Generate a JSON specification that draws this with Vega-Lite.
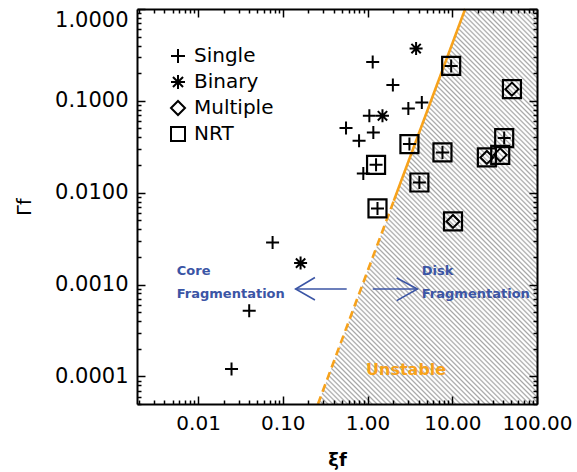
{
  "$schema": "https://vega.github.io/schema/vega-lite/v6.json",
  "width": 400,
  "height": 395,
  "autosize": "none",
  "padding": {"left": 137, "top": 9, "right": 40, "bottom": 68},
  "background": "white",
  "config": {
    "font": "DejaVu Sans",
    "view": {"stroke": null}
  },
  "datasets": {
    "objs": [
      {"xi": 1.15, "gamma": 0.265, "type": "Single", "nrt": false},
      {"xi": 1.99, "gamma": 0.149, "type": "Single", "nrt": false},
      {"xi": 3.03, "gamma": 0.0825, "type": "Single", "nrt": false},
      {"xi": 4.37, "gamma": 0.096, "type": "Single", "nrt": false},
      {"xi": 1.05, "gamma": 0.0687, "type": "Single", "nrt": false},
      {"xi": 0.557, "gamma": 0.0505, "type": "Single", "nrt": false},
      {"xi": 1.17, "gamma": 0.0452, "type": "Single", "nrt": false},
      {"xi": 0.794, "gamma": 0.0367, "type": "Single", "nrt": false},
      {"xi": 0.891, "gamma": 0.0162, "type": "Single", "nrt": false},
      {"xi": 0.0757, "gamma": 0.00287, "type": "Single", "nrt": false},
      {"xi": 0.0401, "gamma": 0.000519, "type": "Single", "nrt": false},
      {"xi": 0.0248, "gamma": 0.00012, "type": "Single", "nrt": false},
      {"xi": 3.74, "gamma": 0.371, "type": "Binary", "nrt": false},
      {"xi": 1.5, "gamma": 0.0687, "type": "Binary", "nrt": false},
      {"xi": 0.162, "gamma": 0.00171, "type": "Binary", "nrt": false},
      {"xi": 9.7, "gamma": 0.24, "type": "Single", "nrt": true},
      {"xi": 3.12, "gamma": 0.0338, "type": "Single", "nrt": true},
      {"xi": 7.66, "gamma": 0.0274, "type": "Single", "nrt": true},
      {"xi": 41.0, "gamma": 0.0393, "type": "Single", "nrt": true},
      {"xi": 1.26, "gamma": 0.0201, "type": "Single", "nrt": true},
      {"xi": 4.09, "gamma": 0.0129, "type": "Single", "nrt": true},
      {"xi": 1.31, "gamma": 0.00673, "type": "Single", "nrt": true},
      {"xi": 50.6, "gamma": 0.134, "type": "Multiple", "nrt": true},
      {"xi": 25.6, "gamma": 0.0242, "type": "Multiple", "nrt": true},
      {"xi": 36.8, "gamma": 0.0258, "type": "Multiple", "nrt": true},
      {"xi": 10.2, "gamma": 0.00486, "type": "Multiple", "nrt": true}
    ],
    "region": [
      {"gamma": 0.00005, "lo": 0.26, "hi": 100},
      {"gamma": 1, "lo": 14.2, "hi": 100}
    ],
    "boundary": [
      {"seg": "solid", "xi": 14.2, "gamma": 1},
      {"seg": "solid", "xi": 2.04, "gamma": 0.00816},
      {"seg": "dashed", "xi": 2.04, "gamma": 0.00816},
      {"seg": "dashed", "xi": 0.26, "gamma": 0.00005}
    ],
    "arrows": [
      {"id": "ls", "ord": 1, "xi": 0.5675, "gamma": 0.000893},
      {"id": "ls", "ord": 2, "xi": 0.1416, "gamma": 0.000893},
      {"id": "lh", "ord": 1, "xi": 0.2393, "gamma": 0.001194},
      {"id": "lh", "ord": 2, "xi": 0.1416, "gamma": 0.000893},
      {"id": "lh", "ord": 3, "xi": 0.2393, "gamma": 0.000678},
      {"id": "rs", "ord": 1, "xi": 1.151, "gamma": 0.000893},
      {"id": "rs", "ord": 2, "xi": 3.88, "gamma": 0.000893},
      {"id": "rh", "ord": 1, "xi": 2.21, "gamma": 0.001177},
      {"id": "rh", "ord": 2, "xi": 3.88, "gamma": 0.000893},
      {"id": "rh", "ord": 3, "xi": 2.21, "gamma": 0.000667}
    ],
    "notes": [
      {"label": "Core", "xi": 0.0056, "gamma": 0.00139},
      {"label": "Fragmentation", "xi": 0.0056, "gamma": 0.000788},
      {"label": "Disk", "xi": 4.37, "gamma": 0.00139},
      {"label": "Fragmentation", "xi": 4.37, "gamma": 0.000788}
    ],
    "zone": [
      {"label": "Unstable", "xi": 2.85, "gamma": 0.000117}
    ]
  },
  "layer": [
    {
      "data": {"name": "region"},
      "mark": {
        "type": "area",
        "orient": "horizontal",
        "stroke": null,
        "color": {
          "gradient": "linear",
          "x1": 0, "y1": 1, "x2": 0.659, "y2": -0.189,
          "stops": [
            {"offset": 0, "color": "#a6a6a6"}, {"offset": 0.0028, "color": "#fff"}, {"offset": 0.0052, "color": "#fff"},
            {"offset": 0.008, "color": "#a6a6a6"}, {"offset": 0.0108, "color": "#fff"}, {"offset": 0.0132, "color": "#fff"},
            {"offset": 0.016, "color": "#a6a6a6"}, {"offset": 0.0188, "color": "#fff"}, {"offset": 0.0212, "color": "#fff"},
            {"offset": 0.024, "color": "#a6a6a6"}, {"offset": 0.0268, "color": "#fff"}, {"offset": 0.0292, "color": "#fff"},
            {"offset": 0.032, "color": "#a6a6a6"}, {"offset": 0.0348, "color": "#fff"}, {"offset": 0.0372, "color": "#fff"},
            {"offset": 0.04, "color": "#a6a6a6"}, {"offset": 0.0428, "color": "#fff"}, {"offset": 0.0452, "color": "#fff"},
            {"offset": 0.048, "color": "#a6a6a6"}, {"offset": 0.0508, "color": "#fff"}, {"offset": 0.0532, "color": "#fff"},
            {"offset": 0.056, "color": "#a6a6a6"}, {"offset": 0.0588, "color": "#fff"}, {"offset": 0.0612, "color": "#fff"},
            {"offset": 0.064, "color": "#a6a6a6"}, {"offset": 0.0668, "color": "#fff"}, {"offset": 0.0692, "color": "#fff"},
            {"offset": 0.072, "color": "#a6a6a6"}, {"offset": 0.0748, "color": "#fff"}, {"offset": 0.0772, "color": "#fff"},
            {"offset": 0.08, "color": "#a6a6a6"}, {"offset": 0.0828, "color": "#fff"}, {"offset": 0.0852, "color": "#fff"},
            {"offset": 0.088, "color": "#a6a6a6"}, {"offset": 0.0908, "color": "#fff"}, {"offset": 0.0932, "color": "#fff"},
            {"offset": 0.096, "color": "#a6a6a6"}, {"offset": 0.0988, "color": "#fff"}, {"offset": 0.1012, "color": "#fff"},
            {"offset": 0.104, "color": "#a6a6a6"}, {"offset": 0.1068, "color": "#fff"}, {"offset": 0.1092, "color": "#fff"},
            {"offset": 0.112, "color": "#a6a6a6"}, {"offset": 0.1148, "color": "#fff"}, {"offset": 0.1172, "color": "#fff"},
            {"offset": 0.12, "color": "#a6a6a6"}, {"offset": 0.1228, "color": "#fff"}, {"offset": 0.1252, "color": "#fff"},
            {"offset": 0.128, "color": "#a6a6a6"}, {"offset": 0.1308, "color": "#fff"}, {"offset": 0.1332, "color": "#fff"},
            {"offset": 0.136, "color": "#a6a6a6"}, {"offset": 0.1388, "color": "#fff"}, {"offset": 0.1412, "color": "#fff"},
            {"offset": 0.144, "color": "#a6a6a6"}, {"offset": 0.1468, "color": "#fff"}, {"offset": 0.1492, "color": "#fff"},
            {"offset": 0.152, "color": "#a6a6a6"}, {"offset": 0.1548, "color": "#fff"}, {"offset": 0.1572, "color": "#fff"},
            {"offset": 0.16, "color": "#a6a6a6"}, {"offset": 0.1628, "color": "#fff"}, {"offset": 0.1652, "color": "#fff"},
            {"offset": 0.168, "color": "#a6a6a6"}, {"offset": 0.1708, "color": "#fff"}, {"offset": 0.1732, "color": "#fff"},
            {"offset": 0.176, "color": "#a6a6a6"}, {"offset": 0.1788, "color": "#fff"}, {"offset": 0.1812, "color": "#fff"},
            {"offset": 0.184, "color": "#a6a6a6"}, {"offset": 0.1868, "color": "#fff"}, {"offset": 0.1892, "color": "#fff"},
            {"offset": 0.192, "color": "#a6a6a6"}, {"offset": 0.1948, "color": "#fff"}, {"offset": 0.1972, "color": "#fff"},
            {"offset": 0.2, "color": "#a6a6a6"}, {"offset": 0.2028, "color": "#fff"}, {"offset": 0.2052, "color": "#fff"},
            {"offset": 0.208, "color": "#a6a6a6"}, {"offset": 0.2108, "color": "#fff"}, {"offset": 0.2132, "color": "#fff"},
            {"offset": 0.216, "color": "#a6a6a6"}, {"offset": 0.2188, "color": "#fff"}, {"offset": 0.2212, "color": "#fff"},
            {"offset": 0.224, "color": "#a6a6a6"}, {"offset": 0.2268, "color": "#fff"}, {"offset": 0.2292, "color": "#fff"},
            {"offset": 0.232, "color": "#a6a6a6"}, {"offset": 0.2348, "color": "#fff"}, {"offset": 0.2372, "color": "#fff"},
            {"offset": 0.24, "color": "#a6a6a6"}, {"offset": 0.2428, "color": "#fff"}, {"offset": 0.2452, "color": "#fff"},
            {"offset": 0.248, "color": "#a6a6a6"}, {"offset": 0.2508, "color": "#fff"}, {"offset": 0.2532, "color": "#fff"},
            {"offset": 0.256, "color": "#a6a6a6"}, {"offset": 0.2588, "color": "#fff"}, {"offset": 0.2612, "color": "#fff"},
            {"offset": 0.264, "color": "#a6a6a6"}, {"offset": 0.2668, "color": "#fff"}, {"offset": 0.2692, "color": "#fff"},
            {"offset": 0.272, "color": "#a6a6a6"}, {"offset": 0.2748, "color": "#fff"}, {"offset": 0.2772, "color": "#fff"},
            {"offset": 0.28, "color": "#a6a6a6"}, {"offset": 0.2828, "color": "#fff"}, {"offset": 0.2852, "color": "#fff"},
            {"offset": 0.288, "color": "#a6a6a6"}, {"offset": 0.2908, "color": "#fff"}, {"offset": 0.2932, "color": "#fff"},
            {"offset": 0.296, "color": "#a6a6a6"}, {"offset": 0.2988, "color": "#fff"}, {"offset": 0.3012, "color": "#fff"},
            {"offset": 0.304, "color": "#a6a6a6"}, {"offset": 0.3068, "color": "#fff"}, {"offset": 0.3092, "color": "#fff"},
            {"offset": 0.312, "color": "#a6a6a6"}, {"offset": 0.3148, "color": "#fff"}, {"offset": 0.3172, "color": "#fff"},
            {"offset": 0.32, "color": "#a6a6a6"}, {"offset": 0.3228, "color": "#fff"}, {"offset": 0.3252, "color": "#fff"},
            {"offset": 0.328, "color": "#a6a6a6"}, {"offset": 0.3308, "color": "#fff"}, {"offset": 0.3332, "color": "#fff"},
            {"offset": 0.336, "color": "#a6a6a6"}, {"offset": 0.3388, "color": "#fff"}, {"offset": 0.3412, "color": "#fff"},
            {"offset": 0.344, "color": "#a6a6a6"}, {"offset": 0.3468, "color": "#fff"}, {"offset": 0.3492, "color": "#fff"},
            {"offset": 0.352, "color": "#a6a6a6"}, {"offset": 0.3548, "color": "#fff"}, {"offset": 0.3572, "color": "#fff"},
            {"offset": 0.36, "color": "#a6a6a6"}, {"offset": 0.3628, "color": "#fff"}, {"offset": 0.3652, "color": "#fff"},
            {"offset": 0.368, "color": "#a6a6a6"}, {"offset": 0.3708, "color": "#fff"}, {"offset": 0.3732, "color": "#fff"},
            {"offset": 0.376, "color": "#a6a6a6"}, {"offset": 0.3788, "color": "#fff"}, {"offset": 0.3812, "color": "#fff"},
            {"offset": 0.384, "color": "#a6a6a6"}, {"offset": 0.3868, "color": "#fff"}, {"offset": 0.3892, "color": "#fff"},
            {"offset": 0.392, "color": "#a6a6a6"}, {"offset": 0.3948, "color": "#fff"}, {"offset": 0.3972, "color": "#fff"},
            {"offset": 0.4, "color": "#a6a6a6"}, {"offset": 0.4028, "color": "#fff"}, {"offset": 0.4052, "color": "#fff"},
            {"offset": 0.408, "color": "#a6a6a6"}, {"offset": 0.4108, "color": "#fff"}, {"offset": 0.4132, "color": "#fff"},
            {"offset": 0.416, "color": "#a6a6a6"}, {"offset": 0.4188, "color": "#fff"}, {"offset": 0.4212, "color": "#fff"},
            {"offset": 0.424, "color": "#a6a6a6"}, {"offset": 0.4268, "color": "#fff"}, {"offset": 0.4292, "color": "#fff"},
            {"offset": 0.432, "color": "#a6a6a6"}, {"offset": 0.4348, "color": "#fff"}, {"offset": 0.4372, "color": "#fff"},
            {"offset": 0.44, "color": "#a6a6a6"}, {"offset": 0.4428, "color": "#fff"}, {"offset": 0.4452, "color": "#fff"},
            {"offset": 0.448, "color": "#a6a6a6"}, {"offset": 0.4508, "color": "#fff"}, {"offset": 0.4532, "color": "#fff"},
            {"offset": 0.456, "color": "#a6a6a6"}, {"offset": 0.4588, "color": "#fff"}, {"offset": 0.4612, "color": "#fff"},
            {"offset": 0.464, "color": "#a6a6a6"}, {"offset": 0.4668, "color": "#fff"}, {"offset": 0.4692, "color": "#fff"},
            {"offset": 0.472, "color": "#a6a6a6"}, {"offset": 0.4748, "color": "#fff"}, {"offset": 0.4772, "color": "#fff"},
            {"offset": 0.48, "color": "#a6a6a6"}, {"offset": 0.4828, "color": "#fff"}, {"offset": 0.4852, "color": "#fff"},
            {"offset": 0.488, "color": "#a6a6a6"}, {"offset": 0.4908, "color": "#fff"}, {"offset": 0.4932, "color": "#fff"},
            {"offset": 0.496, "color": "#a6a6a6"}, {"offset": 0.4988, "color": "#fff"}, {"offset": 0.5012, "color": "#fff"},
            {"offset": 0.504, "color": "#a6a6a6"}, {"offset": 0.5068, "color": "#fff"}, {"offset": 0.5092, "color": "#fff"},
            {"offset": 0.512, "color": "#a6a6a6"}, {"offset": 0.5148, "color": "#fff"}, {"offset": 0.5172, "color": "#fff"},
            {"offset": 0.52, "color": "#a6a6a6"}, {"offset": 0.5228, "color": "#fff"}, {"offset": 0.5252, "color": "#fff"},
            {"offset": 0.528, "color": "#a6a6a6"}, {"offset": 0.5308, "color": "#fff"}, {"offset": 0.5332, "color": "#fff"},
            {"offset": 0.536, "color": "#a6a6a6"}, {"offset": 0.5388, "color": "#fff"}, {"offset": 0.5412, "color": "#fff"},
            {"offset": 0.544, "color": "#a6a6a6"}, {"offset": 0.5468, "color": "#fff"}, {"offset": 0.5492, "color": "#fff"},
            {"offset": 0.552, "color": "#a6a6a6"}, {"offset": 0.5548, "color": "#fff"}, {"offset": 0.5572, "color": "#fff"},
            {"offset": 0.56, "color": "#a6a6a6"}, {"offset": 0.5628, "color": "#fff"}, {"offset": 0.5652, "color": "#fff"},
            {"offset": 0.568, "color": "#a6a6a6"}, {"offset": 0.5708, "color": "#fff"}, {"offset": 0.5732, "color": "#fff"},
            {"offset": 0.576, "color": "#a6a6a6"}, {"offset": 0.5788, "color": "#fff"}, {"offset": 0.5812, "color": "#fff"},
            {"offset": 0.584, "color": "#a6a6a6"}, {"offset": 0.5868, "color": "#fff"}, {"offset": 0.5892, "color": "#fff"},
            {"offset": 0.592, "color": "#a6a6a6"}, {"offset": 0.5948, "color": "#fff"}, {"offset": 0.5972, "color": "#fff"},
            {"offset": 0.6, "color": "#a6a6a6"}, {"offset": 0.6028, "color": "#fff"}, {"offset": 0.6052, "color": "#fff"},
            {"offset": 0.608, "color": "#a6a6a6"}, {"offset": 0.6108, "color": "#fff"}, {"offset": 0.6132, "color": "#fff"},
            {"offset": 0.616, "color": "#a6a6a6"}, {"offset": 0.6188, "color": "#fff"}, {"offset": 0.6212, "color": "#fff"},
            {"offset": 0.624, "color": "#a6a6a6"}, {"offset": 0.6268, "color": "#fff"}, {"offset": 0.6292, "color": "#fff"},
            {"offset": 0.632, "color": "#a6a6a6"}, {"offset": 0.6348, "color": "#fff"}, {"offset": 0.6372, "color": "#fff"},
            {"offset": 0.64, "color": "#a6a6a6"}, {"offset": 0.6428, "color": "#fff"}, {"offset": 0.6452, "color": "#fff"},
            {"offset": 0.648, "color": "#a6a6a6"}, {"offset": 0.6508, "color": "#fff"}, {"offset": 0.6532, "color": "#fff"},
            {"offset": 0.656, "color": "#a6a6a6"}, {"offset": 0.6588, "color": "#fff"}, {"offset": 0.6612, "color": "#fff"},
            {"offset": 0.664, "color": "#a6a6a6"}, {"offset": 0.6668, "color": "#fff"}, {"offset": 0.6692, "color": "#fff"},
            {"offset": 0.672, "color": "#a6a6a6"}, {"offset": 0.6748, "color": "#fff"}, {"offset": 0.6772, "color": "#fff"},
            {"offset": 0.68, "color": "#a6a6a6"}, {"offset": 0.6828, "color": "#fff"}, {"offset": 0.6852, "color": "#fff"},
            {"offset": 0.688, "color": "#a6a6a6"}, {"offset": 0.6908, "color": "#fff"}, {"offset": 0.6932, "color": "#fff"},
            {"offset": 0.696, "color": "#a6a6a6"}, {"offset": 0.6988, "color": "#fff"}, {"offset": 0.7012, "color": "#fff"},
            {"offset": 0.704, "color": "#a6a6a6"}, {"offset": 0.7068, "color": "#fff"}, {"offset": 0.7092, "color": "#fff"},
            {"offset": 0.712, "color": "#a6a6a6"}, {"offset": 0.7148, "color": "#fff"}, {"offset": 0.7172, "color": "#fff"},
            {"offset": 0.72, "color": "#a6a6a6"}, {"offset": 0.7228, "color": "#fff"}, {"offset": 0.7252, "color": "#fff"},
            {"offset": 0.728, "color": "#a6a6a6"}, {"offset": 0.7308, "color": "#fff"}, {"offset": 0.7332, "color": "#fff"},
            {"offset": 0.736, "color": "#a6a6a6"}, {"offset": 0.7388, "color": "#fff"}, {"offset": 0.7412, "color": "#fff"},
            {"offset": 0.744, "color": "#a6a6a6"}, {"offset": 0.7468, "color": "#fff"}, {"offset": 0.7492, "color": "#fff"},
            {"offset": 0.752, "color": "#a6a6a6"}, {"offset": 0.7548, "color": "#fff"}, {"offset": 0.7572, "color": "#fff"},
            {"offset": 0.76, "color": "#a6a6a6"}, {"offset": 0.7628, "color": "#fff"}, {"offset": 0.7652, "color": "#fff"},
            {"offset": 0.768, "color": "#a6a6a6"}, {"offset": 0.7708, "color": "#fff"}, {"offset": 0.7732, "color": "#fff"},
            {"offset": 0.776, "color": "#a6a6a6"}, {"offset": 0.7788, "color": "#fff"}, {"offset": 0.7812, "color": "#fff"},
            {"offset": 0.784, "color": "#a6a6a6"}, {"offset": 0.7868, "color": "#fff"}, {"offset": 0.7892, "color": "#fff"},
            {"offset": 0.792, "color": "#a6a6a6"}, {"offset": 0.7948, "color": "#fff"}, {"offset": 0.7972, "color": "#fff"},
            {"offset": 0.8, "color": "#a6a6a6"}, {"offset": 0.8028, "color": "#fff"}, {"offset": 0.8052, "color": "#fff"},
            {"offset": 0.808, "color": "#a6a6a6"}, {"offset": 0.8108, "color": "#fff"}, {"offset": 0.8132, "color": "#fff"},
            {"offset": 0.816, "color": "#a6a6a6"}, {"offset": 0.8188, "color": "#fff"}, {"offset": 0.8212, "color": "#fff"},
            {"offset": 0.824, "color": "#a6a6a6"}, {"offset": 0.8268, "color": "#fff"}, {"offset": 0.8292, "color": "#fff"},
            {"offset": 0.832, "color": "#a6a6a6"}, {"offset": 0.8348, "color": "#fff"}, {"offset": 0.8372, "color": "#fff"},
            {"offset": 0.84, "color": "#a6a6a6"}, {"offset": 0.8428, "color": "#fff"}, {"offset": 0.8452, "color": "#fff"},
            {"offset": 0.848, "color": "#a6a6a6"}, {"offset": 0.8508, "color": "#fff"}, {"offset": 0.8532, "color": "#fff"},
            {"offset": 0.856, "color": "#a6a6a6"}, {"offset": 0.8588, "color": "#fff"}, {"offset": 0.8612, "color": "#fff"},
            {"offset": 0.864, "color": "#a6a6a6"}, {"offset": 0.8668, "color": "#fff"}, {"offset": 0.8692, "color": "#fff"},
            {"offset": 0.872, "color": "#a6a6a6"}, {"offset": 0.8748, "color": "#fff"}, {"offset": 0.8772, "color": "#fff"},
            {"offset": 0.88, "color": "#a6a6a6"}, {"offset": 0.8828, "color": "#fff"}, {"offset": 0.8852, "color": "#fff"},
            {"offset": 0.888, "color": "#a6a6a6"}, {"offset": 0.8908, "color": "#fff"}, {"offset": 0.8932, "color": "#fff"},
            {"offset": 0.896, "color": "#a6a6a6"}, {"offset": 0.8988, "color": "#fff"}, {"offset": 0.9012, "color": "#fff"},
            {"offset": 0.904, "color": "#a6a6a6"}, {"offset": 0.9068, "color": "#fff"}, {"offset": 0.9092, "color": "#fff"},
            {"offset": 0.912, "color": "#a6a6a6"}, {"offset": 0.9148, "color": "#fff"}, {"offset": 0.9172, "color": "#fff"},
            {"offset": 0.92, "color": "#a6a6a6"}, {"offset": 0.9228, "color": "#fff"}, {"offset": 0.9252, "color": "#fff"},
            {"offset": 0.928, "color": "#a6a6a6"}, {"offset": 0.9308, "color": "#fff"}, {"offset": 0.9332, "color": "#fff"},
            {"offset": 0.936, "color": "#a6a6a6"}, {"offset": 0.9388, "color": "#fff"}, {"offset": 0.9412, "color": "#fff"},
            {"offset": 0.944, "color": "#a6a6a6"}, {"offset": 0.9468, "color": "#fff"}, {"offset": 0.9492, "color": "#fff"},
            {"offset": 0.952, "color": "#a6a6a6"}, {"offset": 0.9548, "color": "#fff"}, {"offset": 0.9572, "color": "#fff"},
            {"offset": 0.96, "color": "#a6a6a6"}, {"offset": 0.9628, "color": "#fff"}, {"offset": 0.9652, "color": "#fff"},
            {"offset": 0.968, "color": "#a6a6a6"}, {"offset": 0.9708, "color": "#fff"}, {"offset": 0.9732, "color": "#fff"},
            {"offset": 0.976, "color": "#a6a6a6"}, {"offset": 0.9788, "color": "#fff"}, {"offset": 0.9812, "color": "#fff"},
            {"offset": 0.984, "color": "#a6a6a6"}, {"offset": 0.9868, "color": "#fff"}, {"offset": 0.9892, "color": "#fff"},
            {"offset": 0.992, "color": "#a6a6a6"}, {"offset": 0.9948, "color": "#fff"}, {"offset": 0.9972, "color": "#fff"},
            {"offset": 1, "color": "#a6a6a6"}
          ]
        }
      },
      "encoding": {
        "y": {
          "field": "gamma", "type": "quantitative",
          "scale": {"type": "log", "domain": [0.00005, 1], "nice": false},
          "axis": {
            "orient": "left",
            "values": [0.00005, 0.00006, 0.00007, 0.00008, 0.00009, 0.0001, 0.0002, 0.0003, 0.0004, 0.0005, 0.0006, 0.0007, 0.0008, 0.0009, 0.001, 0.002, 0.003, 0.004, 0.005, 0.006, 0.007, 0.008, 0.009, 0.01, 0.02, 0.03, 0.04, 0.05, 0.06, 0.07, 0.08, 0.09, 0.1, 0.2, 0.3, 0.4, 0.5, 0.6, 0.7, 0.8, 0.9, 1],
            "domain": true, "domainColor": "black", "domainWidth": 2,
            "grid": false, "zindex": 1,
            "tickColor": "black", "tickWidth": 1.5,
            "tickSize": {"condition": {"test": "abs(log(datum.value)/LN10 - round(log(datum.value)/LN10)) < 0.01", "value": -8}, "value": -4},
            "labelExpr": "abs(log(datum.value)/LN10 - round(log(datum.value)/LN10)) < 0.01 ? format(datum.value, '.4f') : ''",
            "labelFont": "DejaVu Sans", "labelFontSize": 21, "labelColor": "black",
            "labelPadding": 17, "labelOverlap": false, "labelBound": false, "labelFlush": true,
            "title": "Γf", "titleFont": "DejaVu Sans", "titleFontSize": 19, "titleFontWeight": "normal", "titleColor": "black", "titlePadding": 20
          }
        },
        "x": {
          "field": "lo", "type": "quantitative",
          "scale": {"type": "log", "domain": [0.0019, 100], "nice": false},
          "axis": {
            "orient": "bottom",
            "values": [0.002, 0.003, 0.004, 0.005, 0.006, 0.007, 0.008, 0.009, 0.01, 0.02, 0.03, 0.04, 0.05, 0.06, 0.07, 0.08, 0.09, 0.1, 0.2, 0.3, 0.4, 0.5, 0.6, 0.7, 0.8, 0.9, 1, 2, 3, 4, 5, 6, 7, 8, 9, 10, 20, 30, 40, 50, 60, 70, 80, 90, 100],
            "domain": true, "domainColor": "black", "domainWidth": 2,
            "grid": false, "zindex": 1,
            "tickColor": "black", "tickWidth": 1.5,
            "tickSize": {"condition": {"test": "abs(log(datum.value)/LN10 - round(log(datum.value)/LN10)) < 0.01", "value": -8}, "value": -4},
            "labelExpr": "abs(log(datum.value)/LN10 - round(log(datum.value)/LN10)) < 0.01 ? format(datum.value, '.2f') : ''",
            "labelFont": "DejaVu Sans", "labelFontSize": 20, "labelColor": "black",
            "labelPadding": 17, "labelOverlap": false, "labelBound": false, "labelFlush": false,
            "title": "ξf", "titleFont": "DejaVu Sans", "titleFontSize": 18, "titleFontWeight": "bold", "titleColor": "black", "titlePadding": 14
          }
        },
        "x2": {"field": "hi"}
      }
    },
    {
      "data": {"name": "boundary"},
      "mark": {"type": "line", "color": "#f7a21b", "strokeWidth": 2.6},
      "encoding": {
        "x": {"field": "xi", "type": "quantitative", "scale": {"type": "log", "domain": [0.0019, 100], "nice": false}, "axis": null},
        "y": {"field": "gamma", "type": "quantitative", "scale": {"type": "log", "domain": [0.00005, 1], "nice": false}, "axis": null},
        "detail": {"field": "seg"},
        "strokeDash": {"field": "seg", "type": "nominal", "scale": {"domain": ["solid", "dashed"], "range": [[1, 0], [8, 5]]}, "legend": null}
      }
    },
    {
      "data": {"name": "arrows"},
      "mark": {"type": "line", "color": "#3b55a5", "strokeWidth": 1.6},
      "encoding": {
        "x": {"field": "xi", "type": "quantitative", "scale": {"type": "log", "domain": [0.0019, 100], "nice": false}, "axis": null},
        "y": {"field": "gamma", "type": "quantitative", "scale": {"type": "log", "domain": [0.00005, 1], "nice": false}, "axis": null},
        "detail": {"field": "id"},
        "order": {"field": "ord", "type": "quantitative"}
      }
    },
    {
      "data": {"name": "notes"},
      "mark": {"type": "text", "align": "left", "baseline": "middle", "font": "DejaVu Sans", "fontSize": 13, "fontWeight": "bold", "color": "#3b55a5"},
      "encoding": {
        "x": {"field": "xi", "type": "quantitative", "scale": {"type": "log", "domain": [0.0019, 100], "nice": false}, "axis": null},
        "y": {"field": "gamma", "type": "quantitative", "scale": {"type": "log", "domain": [0.00005, 1], "nice": false}, "axis": null},
        "text": {"field": "label"}
      }
    },
    {
      "data": {"name": "zone"},
      "mark": {"type": "text", "align": "center", "baseline": "middle", "font": "DejaVu Sans", "fontSize": 16, "fontWeight": "bold", "color": "#f7a21b"},
      "encoding": {
        "x": {"field": "xi", "type": "quantitative", "scale": {"type": "log", "domain": [0.0019, 100], "nice": false}, "axis": null},
        "y": {"field": "gamma", "type": "quantitative", "scale": {"type": "log", "domain": [0.00005, 1], "nice": false}, "axis": null},
        "text": {"field": "label"}
      }
    },
    {
      "data": {"name": "objs"},
      "mark": {"type": "point", "filled": false, "color": "black", "strokeWidth": 2, "size": 169, "opacity": 1},
      "encoding": {
        "x": {"field": "xi", "type": "quantitative", "scale": {"type": "log", "domain": [0.0019, 100], "nice": false}, "axis": null},
        "y": {"field": "gamma", "type": "quantitative", "scale": {"type": "log", "domain": [0.00005, 1], "nice": false}, "axis": null},
        "shape": {
          "field": "type", "type": "nominal",
          "scale": {"domain": ["Single", "Binary", "Multiple", "NRT"], "range": ["M-1,0L1,0M0,-1L0,1", "M-1,0L1,0M0,-1L0,1M-0.72,-0.72L0.72,0.72M-0.72,0.72L0.72,-0.72", "diamond", "square"]},
          "legend": {
            "orient": "none", "legendX": 31, "legendY": 37, "title": null, "padding": 0,
            "labelFont": "DejaVu Sans", "labelFontSize": 20, "labelColor": "black", "labelOffset": 6,
            "symbolSize": 196, "symbolStrokeWidth": 2, "symbolStrokeColor": "black", "symbolFillColor": "transparent",
            "rowPadding": 4
          }
        }
      }
    },
    {
      "data": {"name": "objs"},
      "transform": [{"filter": "datum.nrt"}],
      "mark": {"type": "point", "filled": false, "color": "black", "strokeWidth": 2.2, "size": 324, "opacity": 1},
      "encoding": {
        "x": {
          "field": "xi", "type": "quantitative", "scale": {"type": "log", "domain": [0.0019, 100], "nice": false},
          "axis": {
            "orient": "top", "labels": false, "title": null,
            "values": [0.002, 0.003, 0.004, 0.005, 0.006, 0.007, 0.008, 0.009, 0.01, 0.02, 0.03, 0.04, 0.05, 0.06, 0.07, 0.08, 0.09, 0.1, 0.2, 0.3, 0.4, 0.5, 0.6, 0.7, 0.8, 0.9, 1, 2, 3, 4, 5, 6, 7, 8, 9, 10, 20, 30, 40, 50, 60, 70, 80, 90, 100],
            "domain": true, "domainColor": "black", "domainWidth": 2,
            "grid": false, "zindex": 1,
            "tickColor": "black", "tickWidth": 1.5,
            "tickSize": {"condition": {"test": "abs(log(datum.value)/LN10 - round(log(datum.value)/LN10)) < 0.01", "value": -8}, "value": -4}
          }
        },
        "y": {
          "field": "gamma", "type": "quantitative", "scale": {"type": "log", "domain": [0.00005, 1], "nice": false},
          "axis": {
            "orient": "right", "labels": false, "title": null,
            "values": [0.00005, 0.00006, 0.00007, 0.00008, 0.00009, 0.0001, 0.0002, 0.0003, 0.0004, 0.0005, 0.0006, 0.0007, 0.0008, 0.0009, 0.001, 0.002, 0.003, 0.004, 0.005, 0.006, 0.007, 0.008, 0.009, 0.01, 0.02, 0.03, 0.04, 0.05, 0.06, 0.07, 0.08, 0.09, 0.1, 0.2, 0.3, 0.4, 0.5, 0.6, 0.7, 0.8, 0.9, 1],
            "domain": true, "domainColor": "black", "domainWidth": 2,
            "grid": false, "zindex": 1,
            "tickColor": "black", "tickWidth": 1.5,
            "tickSize": {"condition": {"test": "abs(log(datum.value)/LN10 - round(log(datum.value)/LN10)) < 0.01", "value": -8}, "value": -4}
          }
        },
        "shape": {"datum": "NRT", "type": "nominal"}
      }
    }
  ],
  "resolve": {"axis": {"x": "independent", "y": "independent"}}
}
